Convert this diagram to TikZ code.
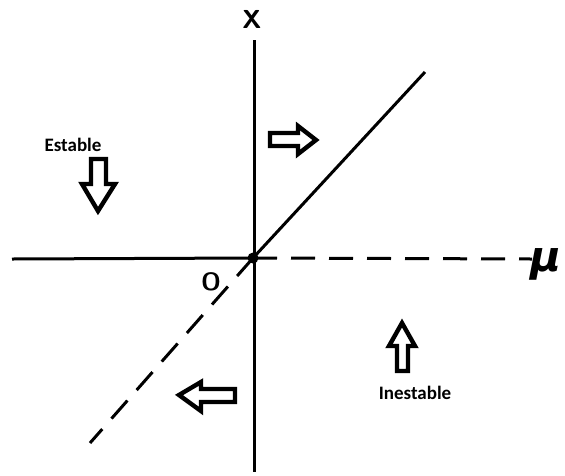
\documentclass[tikz,border=0pt]{standalone}
\usepackage{fontspec}
\setmainfont{Carlito}
\newfontfamily\mufont{DejaVu Sans}
\begin{document}
\begin{tikzpicture}[x=1pt,y=-1pt,
  axis/.style={line width=3pt},
  dashaxis/.style={line width=3pt,dash pattern=on 24pt off 14pt},
  blockarrow/.style={line width=4.4pt,line join=miter},
  lbl/.style={font=\bfseries\fontsize{19}{21}\selectfont,inner sep=0pt}]
\useasboundingbox (0,0) rectangle (565,475);
\fill[white] (0,0) rectangle (565,475);
% coordinates
\coordinate (O) at (253,258);
\coordinate (vtop) at (254,40);
\coordinate (vbot) at (254,472);
\coordinate (hleft) at (12,259);
\coordinate (hright) at (532,259);
\coordinate (dtop) at (425,72);
\coordinate (dbot) at (90,443);
% axes
\draw[axis] (vtop) -- (vbot);
\draw[axis] (hleft) -- (O);
\draw[dashaxis] (O) -- (hright);
\draw[axis] (O) -- (dtop);
\draw[dashaxis] (O) -- (dbot);
\fill (O) circle (5.5pt);
% labels
\node[font=\sffamily\bfseries\fontsize{26}{28}\selectfont,inner sep=0pt] (xl) at (252,19) {X};
\node[font=\sffamily\bfseries\fontsize{25}{27}\selectfont,inner sep=0pt] (ol) at (211,282) {O};
\node[font=\mufont\bfseries\itshape\fontsize{42}{44}\selectfont,inner sep=0pt] (mu) at (546,264) {μ};
\node[lbl] (est) at (73,145) {Estable};
\node[lbl] (inest) at (415,393) {Inestable};
% block arrows
% down arrow (Estable)
\draw[blockarrow] (91,159) -- (106,159) -- (106,184) -- (115,184) -- (98,211) -- (82,184) -- (91,184) -- cycle;
% right arrow
\draw[blockarrow] (270,133) -- (298,133) -- (298,126) -- (316,140) -- (298,154) -- (298,146) -- (270,146) -- cycle;
% left arrow
\draw[blockarrow] (235,389) -- (201,389) -- (201,382) -- (179,395) -- (201,411) -- (201,402) -- (235,402) -- cycle;
% up arrow (Inestable)
\draw[blockarrow] (397,371) -- (408,371) -- (408,346) -- (415,346) -- (402,323) -- (389,346) -- (397,346) -- cycle;
\end{tikzpicture}
\end{document}
